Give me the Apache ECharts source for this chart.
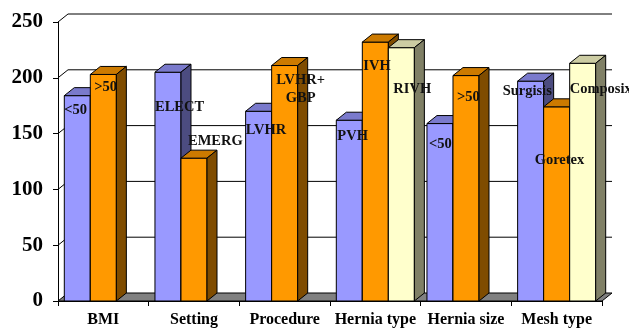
<!DOCTYPE html>
<html>
<head>
<meta charset="utf-8">
<script src="https://cdn.jsdelivr.net/npm/echarts@6/dist/echarts.min.js"></script>
<style>
  html, body { margin: 0; padding: 0; background: #fff; }
  #chart { width: 629px; height: 328px; }
</style>
</head>
<body>
<div id="chart"></div>
<script>
// Groups along the horizontal axis
const categories = ['BMI', 'Setting', 'Procedure', 'Hernia type', 'Hernia size', 'Mesh type'];

// Values of the three column series (null = no column in that group)
const seriesA = [184, 205, 170, 162, 159, 197];
const seriesB = [203, 128, 211, 232, 202, 174];
const seriesC = [null, null, null, 227, null, 213];

// Text written on each column
const labelsA = ['<50', 'ELECT', 'LVHR', 'PVH', '<50', 'Surgisis'];
const labelsB = ['>50', 'EMERG', 'LVHR+\nGBP', 'IVH', '>50', 'Goretex'];
const labelsC = ['', '', '', 'RIVH', '', 'Composix'];

// Value axis ticks
const yTicks = [0, 50, 100, 150, 200, 250];

// Label placement relative to the column's front-left top corner: [dx, dy, align]
const placeA = [[0, 15], [0, 35], [0, 19], [1, 16], [2, 21], [-15, 10]];
const placeB = [[4, 13], [7, -17], [29, 24, 'center'], [1, 24], [4, 22], [-9, 53]];
const placeC = [null, null, null, [5, 42], null, [0, 26]];

// 3D depth of the walls and columns
const DX = 10, DY = 8;
const BAR_FRAC = 0.287;
const FONT = '"Liberation Serif", "Times New Roman", serif';

const palettes = [
  { front: '#9999FF', top: '#7A7ACC', side: '#4C4C80' },
  { front: '#FF9900', top: '#CC7A00', side: '#7F4C00' },
  { front: '#FFFFCC', top: '#CCCCA3', side: '#808066' }
];

// Front-left corner geometry of one column
function columnBox(api, idx) {
  const ci = api.value(0);
  const v = api.value(1);
  const band = api.size([1, 0])[0];
  const center = api.coord([ci, 0])[0];
  const base = api.coord([ci, 0])[1];
  const top = api.coord([ci, v])[1];
  const w = band * BAR_FRAC;
  const L = center - 1.5 * w + idx * w;
  return { L: L, R: L + w, w: w, top: top, base: base };
}

function columnSeries(values, idx) {
  const pal = palettes[idx];
  return {
    type: 'custom',
    z: 3 + idx,
    silent: true,
    data: values.map((v, i) => [i, v == null ? NaN : v]),
    renderItem: function (params, api) {
      if (isNaN(api.value(1))) return null;
      const b = columnBox(api, idx);
      const L = b.L, R = b.R, top = b.top, base = b.base;
      const st = { stroke: '#000', lineWidth: 1 };
      return {
        type: 'group',
        children: [
          { type: 'rect', shape: { x: L, y: top, width: b.w, height: base - top },
            style: Object.assign({ fill: pal.front }, st) },
          { type: 'polygon', shape: { points: [[L, top], [R, top], [R + DX, top - DY], [L + DX, top - DY]] },
            style: Object.assign({ fill: pal.top }, st) },
          { type: 'polygon', shape: { points: [[R, top], [R + DX, top - DY], [R + DX, base - DY], [R, base]] },
            style: Object.assign({ fill: pal.side }, st) }
        ]
      };
    }
  };
}

function labelSeries(values, labels, places, idx) {
  return {
    type: 'custom',
    z: 10,
    silent: true,
    data: values.map((v, i) => [i, v == null ? NaN : v]),
    renderItem: function (params, api) {
      if (isNaN(api.value(1))) return null;
      const p = places[params.dataIndex];
      const txt = labels[params.dataIndex];
      if (!p || !txt) return null;
      const b = columnBox(api, idx);
      return {
        type: 'text',
        style: {
          x: b.L + p[0], y: b.top + p[1],
          text: txt,
          fill: '#111',
          font: 'bold 14.5px ' + FONT,
          lineHeight: 18,
          align: p[2] || 'left',
          verticalAlign: 'middle'
        }
      };
    }
  };
}

// Back wall, side wall grid lines and the floor
const wallSeries = {
  type: 'custom',
  z: 1,
  silent: true,
  data: yTicks.map(v => [0, v]),
  renderItem: function (params, api) {
    const cs = params.coordSys;
    const left = cs.x, right = cs.x + cs.width;
    const v = api.value(1);
    const y = api.coord([0, v])[1];
    if (v === 0) {
      return {
        type: 'polygon',
        shape: { points: [[left, y], [right, y], [right + DX, y - DY], [left + DX, y - DY]] },
        style: { fill: '#808080', stroke: '#000', lineWidth: 1 }
      };
    }
    return {
      type: 'polyline',
      shape: { points: [[left, y], [left + DX, y - DY], [right + DX, y - DY]] },
      style: { fill: 'none', stroke: '#000', lineWidth: 1 }
    };
  }
};

const chart = echarts.init(document.getElementById('chart'), null, { renderer: 'canvas' });
chart.setOption({
  animation: false,
  backgroundColor: '#fff',
  grid: { left: 58, right: 27, top: 22, bottom: 27 },
  xAxis: {
    type: 'category',
    data: categories,
    boundaryGap: true,
    axisLine: { show: true, lineStyle: { color: '#000', width: 1 } },
    axisTick: { show: true, length: 5, interval: 0, lineStyle: { color: '#000' } },
    axisLabel: { color: '#000', fontFamily: FONT, fontWeight: 'bold', fontSize: 16, margin: 11, interval: 0 },
    splitLine: { show: false }
  },
  yAxis: {
    type: 'value',
    min: 0, max: 250, interval: 50,
    axisLine: { show: true, lineStyle: { color: '#000', width: 1 } },
    axisTick: { show: true, length: 5, lineStyle: { color: '#000' } },
    axisLabel: { color: '#000', fontFamily: FONT, fontWeight: 'bold', fontSize: 21, margin: 15 },
    splitLine: { show: false }
  },
  series: [
    wallSeries,
    columnSeries(seriesA, 0),
    columnSeries(seriesB, 1),
    columnSeries(seriesC, 2),
    labelSeries(seriesA, labelsA, placeA, 0),
    labelSeries(seriesB, labelsB, placeB, 1),
    labelSeries(seriesC, labelsC, placeC, 2)
  ]
});
</script>
</body>
</html>
